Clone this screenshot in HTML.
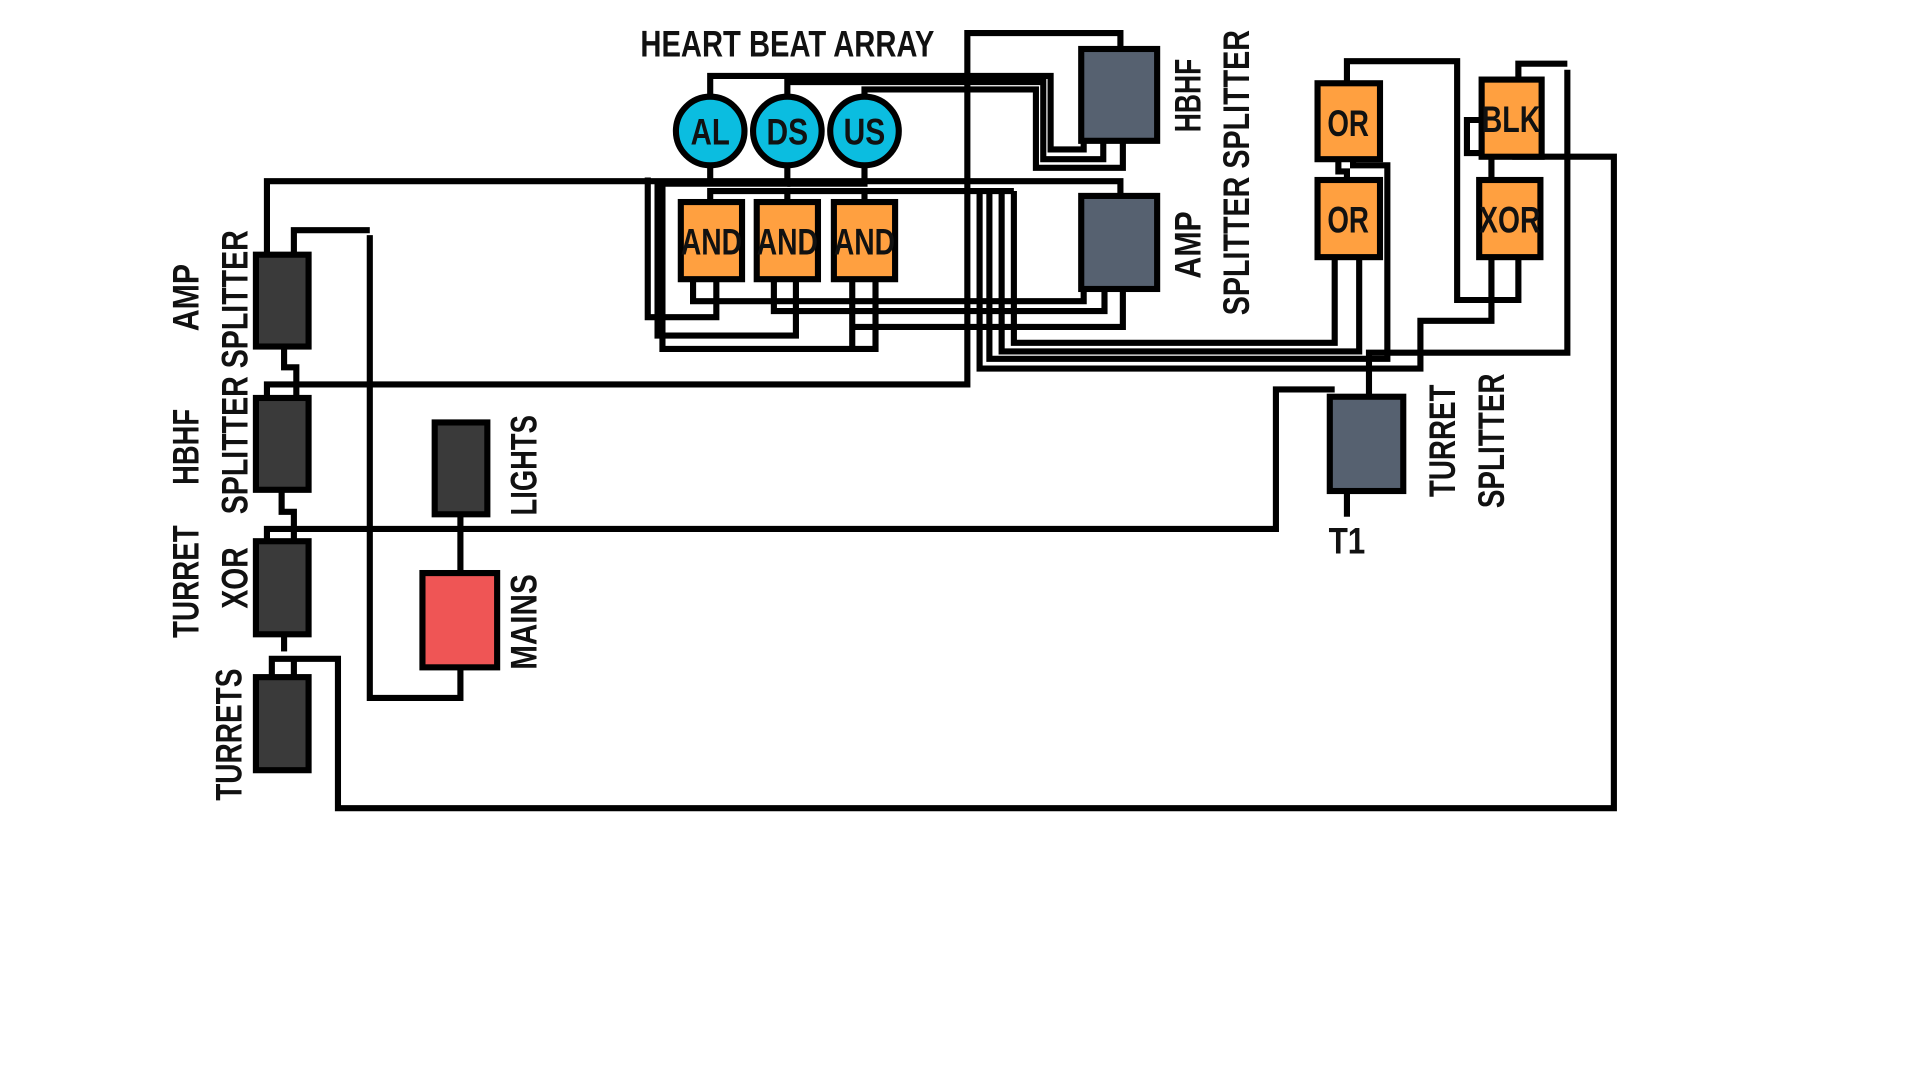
<!DOCTYPE html>
<html><head><meta charset="utf-8"><style>
html,body{margin:0;padding:0;background:#fff;width:1920px;height:1080px;overflow:hidden}
svg{display:block}
text{font-family:"Liberation Sans Narrow","Liberation Sans",sans-serif;font-weight:bold;fill:#111}
</style></head><body>
<svg width="1920" height="1080" viewBox="0 0 1568 882" preserveAspectRatio="none" xmlns="http://www.w3.org/2000/svg">
<rect width="1568" height="882" fill="#fff"/>
<g fill="none" stroke="#000" stroke-width="5">
<polyline points="218,208 218,148 915,148 915,160"/>
<polyline points="240,208 240,188 302,188"/>
<polyline points="302,192 302,570 376,570 376,545"/>
<line x1="376" y1="420" x2="376" y2="468"/>
<polyline points="218,325 218,314 790,314 790,27 915,27 915,40"/>
<polyline points="232,283 232,300 242,300 242,325"/>
<polyline points="230,400 230,418 240,418 240,442"/>
<polyline points="218,442 218,432 1042,432 1042,318 1090,318"/>
<polyline points="232,518 232,532"/>
<polyline points="222,553 222,538 276,538 276,660 1318,660 1318,128 1235,128"/>
<polyline points="240,553 240,538"/>
<polyline points="580,79 580,62 858,62 858,122 885,122 885,115"/>
<polyline points="643,79 643,67 852,67 852,130 901,130 901,115"/>
<polyline points="706,79 706,73 846,73 846,137 917,137 917,115"/>
<line x1="580" y1="135" x2="580" y2="148"/>
<polyline points="643,135 643,150 540,150"/>
<polyline points="706,135 706,150 643,150"/>
<polyline points="580,165 580,156 828,156"/>
<line x1="643" y1="165" x2="643" y2="156"/>
<line x1="706" y1="165" x2="706" y2="156"/>
<polyline points="566,228 566,246 885,246 885,236"/>
<polyline points="585,228 585,259 529,259 529,145"/>
<polyline points="632,228 632,254 902,254 902,236"/>
<polyline points="650,228 650,274 537,274 537,148"/>
<polyline points="696,228 696,286"/>
<polyline points="696,267 917,267 917,236"/>
<polyline points="715,228 715,285 541,285 541,150"/>
<polyline points="828,156 828,280 1090,280 1090,210"/>
<polyline points="818,158 818,287 1110,287 1110,210"/>
<polyline points="808,158 808,293 1133,293 1133,135 1105,135 1105,130"/>
<polyline points="800,158 800,301 1160,301 1160,262 1218,262 1218,210"/>
<polyline points="1093,130 1093,140 1100,140 1100,147"/>
<polyline points="1100,68 1100,50 1190,50 1190,245 1240,245 1240,210"/>
<polyline points="1240,65 1240,52 1280,52"/>
<polyline points="1280,57 1280,288 1118,288 1118,324"/>
<polyline points="1210,98 1198,98 1198,125 1218,125 1218,147"/>
<line x1="1100" y1="401" x2="1100" y2="422"/>
</g>
<g stroke="#000" stroke-width="5">
<rect x="209" y="208" width="43" height="75" fill="#3a3a3a"/>
<rect x="209" y="325" width="43" height="75" fill="#3a3a3a"/>
<rect x="209" y="442" width="43" height="76" fill="#3a3a3a"/>
<rect x="209" y="553" width="43" height="76" fill="#3a3a3a"/>
<rect x="355" y="345" width="43" height="75" fill="#3a3a3a"/>
<rect x="345" y="468" width="61" height="77" fill="#ef5555"/>
<rect x="883" y="40" width="62" height="75" fill="#566170"/>
<rect x="883" y="160" width="62" height="76" fill="#566170"/>
<rect x="1086" y="324" width="60" height="77" fill="#566170"/>
<rect x="556" y="165" width="50" height="63" fill="#ffa040"/>
<rect x="618" y="165" width="50" height="63" fill="#ffa040"/>
<rect x="681" y="165" width="50" height="63" fill="#ffa040"/>
<rect x="1076" y="68" width="51" height="62" fill="#ffa040"/>
<rect x="1076" y="147" width="51" height="63" fill="#ffa040"/>
<rect x="1210" y="65" width="49" height="63" fill="#ffa040"/>
<rect x="1208" y="147" width="50" height="63" fill="#ffa040"/>
<circle cx="580" cy="107" r="28" fill="#0bbde0"/>
<circle cx="643" cy="107" r="28" fill="#0bbde0"/>
<circle cx="706" cy="107" r="28" fill="#0bbde0"/>
</g>
<g font-size="30" text-anchor="middle">
<text x="643" y="46" textLength="240" lengthAdjust="spacingAndGlyphs">HEART BEAT ARRAY</text>
<text x="580" y="118" textLength="32" lengthAdjust="spacingAndGlyphs">AL</text>
<text x="643" y="118" textLength="34" lengthAdjust="spacingAndGlyphs">DS</text>
<text x="706" y="118" textLength="34" lengthAdjust="spacingAndGlyphs">US</text>
<text x="581" y="208" textLength="50" lengthAdjust="spacingAndGlyphs">AND</text>
<text x="643" y="208" textLength="50" lengthAdjust="spacingAndGlyphs">AND</text>
<text x="706" y="208" textLength="50" lengthAdjust="spacingAndGlyphs">AND</text>
<text x="1101" y="111" textLength="34" lengthAdjust="spacingAndGlyphs">OR</text>
<text x="1101" y="190" textLength="34" lengthAdjust="spacingAndGlyphs">OR</text>
<text x="1234" y="108" textLength="48" lengthAdjust="spacingAndGlyphs">BLK</text>
<text x="1233" y="190" textLength="50" lengthAdjust="spacingAndGlyphs">XOR</text>
<text x="1100" y="452" textLength="30" lengthAdjust="spacingAndGlyphs">T1</text>
</g>
<g font-size="30" text-anchor="middle" dominant-baseline="central">
<text transform="translate(970,78) rotate(-90)" textLength="60" lengthAdjust="spacingAndGlyphs">HBHF</text>
<text transform="translate(1010,141) rotate(-90)" textLength="233" lengthAdjust="spacingAndGlyphs">SPLITTER SPLITTER</text>
<text transform="translate(970,200) rotate(-90)" textLength="55" lengthAdjust="spacingAndGlyphs">AMP</text>
<text transform="translate(1178,360) rotate(-90)" textLength="92" lengthAdjust="spacingAndGlyphs">TURRET</text>
<text transform="translate(1218,360) rotate(-90)" textLength="110" lengthAdjust="spacingAndGlyphs">SPLITTER</text>
<text transform="translate(152,243) rotate(-90)" textLength="55" lengthAdjust="spacingAndGlyphs">AMP</text>
<text transform="translate(192,304) rotate(-90)" textLength="232" lengthAdjust="spacingAndGlyphs">SPLITTER SPLITTER</text>
<text transform="translate(152,365) rotate(-90)" textLength="62" lengthAdjust="spacingAndGlyphs">HBHF</text>
<text transform="translate(152,475) rotate(-90)" textLength="92" lengthAdjust="spacingAndGlyphs">TURRET</text>
<text transform="translate(192,472) rotate(-90)" textLength="50" lengthAdjust="spacingAndGlyphs">XOR</text>
<text transform="translate(187,600) rotate(-90)" textLength="108" lengthAdjust="spacingAndGlyphs">TURRETS</text>
<text transform="translate(428,380) rotate(-90)" textLength="82" lengthAdjust="spacingAndGlyphs">LIGHTS</text>
<text transform="translate(428,508) rotate(-90)" textLength="78" lengthAdjust="spacingAndGlyphs">MAINS</text>
</g>
</svg>
</body></html>
